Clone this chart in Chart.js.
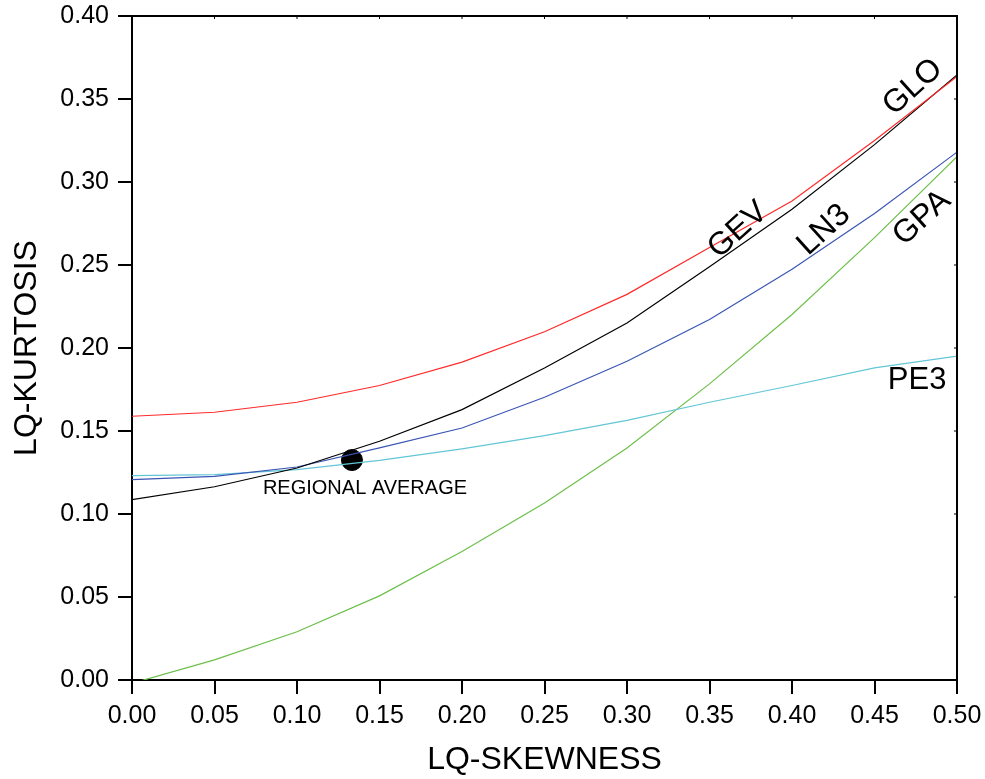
<!DOCTYPE html>
<html>
<head>
<meta charset="utf-8">
<script src="https://cdn.jsdelivr.net/npm/chart.js@4.4.0/dist/chart.umd.min.js"></script>
<style>
  html, body { margin: 0; padding: 0; background: #fff; }
  #wrap { width: 985px; height: 779px; position: relative; }
</style>
</head>
<body>
<div id="wrap"><canvas id="myChart"></canvas></div>
<script>
// LQ-skewness grid and LQ-kurtosis of each distribution
var skew = [0, 0.05, 0.10, 0.15, 0.20, 0.25, 0.30, 0.35, 0.40, 0.45, 0.50];
var glo = [0.1589, 0.1613, 0.1673, 0.1774, 0.1915, 0.2098, 0.2323, 0.2606, 0.2886, 0.3250, 0.3635];
var gev = [0.1086, 0.1164, 0.1277, 0.1438, 0.1629, 0.1880, 0.2150, 0.2490, 0.2836, 0.3225, 0.3645];
var ln3 = [0.1207, 0.1227, 0.1283, 0.1398, 0.1518, 0.1703, 0.1920, 0.2172, 0.2474, 0.2810, 0.3180];
var pe3 = [0.1231, 0.1237, 0.1267, 0.1323, 0.1392, 0.1472, 0.1564, 0.1673, 0.1774, 0.1880, 0.1951];
var gpa = [-0.0020, 0.0121, 0.0291, 0.0507, 0.0774, 0.1066, 0.1398, 0.1784, 0.2202, 0.2665, 0.3153];

// regional average point
var regX = [0.1333];
var regY = [0.1325];

var xTicks = [0, 0.05, 0.10, 0.15, 0.20, 0.25, 0.30, 0.35, 0.40, 0.45, 0.50];
var yTicks = [0, 0.05, 0.10, 0.15, 0.20, 0.25, 0.30, 0.35, 0.40];

var FONT = "'Liberation Sans', Arial, sans-serif";

function pts(xs, ys) {
  return xs.map(function (x, i) { return { x: x, y: ys[i] }; });
}

function curve(data, color) {
  return {
    data: pts(skew, data),
    borderColor: color,
    borderWidth: 1.2,
    showLine: true,
    pointRadius: 0,
    tension: 0,
    fill: false
  };
}

// curve names placed in data coordinates
var curveLabels = [
  { text: 'GLO', x: 0.4733, y: 0.3572, rot: -42, size: 32 },
  { text: 'GEV', x: 0.3673, y: 0.2711, rot: -42, size: 32 },
  { text: 'LN3', x: 0.4194, y: 0.2711, rot: -42, size: 32 },
  { text: 'GPA', x: 0.4788, y: 0.2783, rot: -42, size: 32 },
  { text: 'PE3', x: 0.4758, y: 0.1807, rot: 0, size: 31 },
  { text: 'REGIONAL AVERAGE', x: 0.1412, y: 0.1151, rot: 0, size: 20 }
];

var framePlugin = {
  id: 'frame',
  afterDatasetsDraw: function (chart) {
    var c = chart.ctx, a = chart.chartArea;
    var xs = chart.scales.x, ys = chart.scales.y;
    c.save();
    c.strokeStyle = '#000';
    c.lineWidth = 2;
    c.beginPath();
    c.moveTo(a.left, a.top);
    c.lineTo(a.right, a.top);
    c.lineTo(a.right, a.bottom);
    c.stroke();
    // small inward ticks on top and right
    c.lineWidth = 1;
    c.beginPath();
    xTicks.forEach(function (v) {
      var px = xs.getPixelForValue(v);
      c.moveTo(px, a.top);
      c.lineTo(px, a.top + 3);
    });
    yTicks.forEach(function (v) {
      var py = ys.getPixelForValue(v);
      c.moveTo(a.right, py);
      c.lineTo(a.right - 3, py);
    });
    c.stroke();

    c.fillStyle = '#000';
    c.textAlign = 'center';
    c.textBaseline = 'middle';
    curveLabels.forEach(function (l) {
      c.save();
      c.translate(xs.getPixelForValue(l.x), ys.getPixelForValue(l.y));
      c.rotate(l.rot * Math.PI / 180);
      c.font = l.size + 'px ' + FONT;
      c.fillText(l.text, 0, 0);
      c.restore();
    });
    c.restore();
  }
};

var ctx = document.getElementById('myChart');

var graphData = {
  type: 'scatter',
  data: {
    datasets: [
      curve(glo, '#ff2a2a'),
      curve(gev, '#000000'),
      curve(ln3, '#3a55b4'),
      curve(pe3, '#62c6d6'),
      curve(gpa, '#6cbf4a'),
      {
        data: pts(regX, regY),
        pointRadius: 10.5,
        pointBackgroundColor: '#000',
        pointBorderColor: '#000',
        showLine: false
      }
    ]
  },
  options: {
    responsive: true,
    maintainAspectRatio: false,
    animation: false,
    layout: { padding: { top: 16, right: 28, left: 0, bottom: 0 } },
    plugins: { legend: { display: false }, tooltip: { enabled: false } },
    scales: {
      x: {
        type: 'linear',
        min: 0,
        max: 0.5,
        afterFit: function (s) { s.height = 99; s.paddingLeft = 0; s.paddingRight = 0; },
        afterBuildTicks: function (s) { s.ticks = xTicks.map(function (v) { return { value: v }; }); },
        border: { color: '#000', width: 2 },
        grid: { drawOnChartArea: false, drawTicks: true, tickLength: 14, color: '#000', lineWidth: 2 },
        ticks: {
          color: '#000',
          padding: 7,
          font: { family: FONT, size: 25 },
          callback: function (v) { return Number(v).toFixed(2); }
        },
        title: {
          display: true,
          text: 'LQ-SKEWNESS',
          color: '#000',
          font: { family: FONT, size: 32 },
          padding: { top: 0, bottom: 0 }
        }
      },
      y: {
        type: 'linear',
        min: 0,
        max: 0.4,
        afterFit: function (s) { s.width = 132; s.paddingTop = 0; s.paddingBottom = 0; },
        afterBuildTicks: function (s) { s.ticks = yTicks.map(function (v) { return { value: v }; }); },
        border: { color: '#000', width: 2 },
        grid: { drawOnChartArea: false, drawTicks: true, tickLength: 14, color: '#000', lineWidth: 2 },
        ticks: {
          color: '#000',
          padding: 9,
          font: { family: FONT, size: 25 },
          callback: function (v) { return Number(v).toFixed(2); }
        },
        title: {
          display: true,
          text: 'LQ-KURTOSIS',
          color: '#000',
          font: { family: FONT, size: 32 },
          padding: { top: 8, bottom: 0 }
        }
      }
    }
  },
  plugins: [framePlugin]
};

var myChart = new Chart(ctx, graphData);
</script>
</body>
</html>
